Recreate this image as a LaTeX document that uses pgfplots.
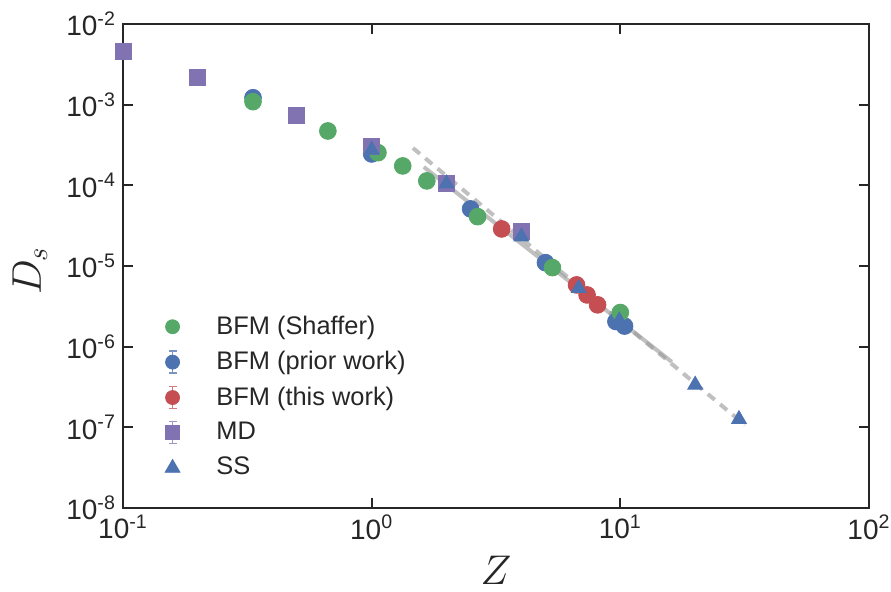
\documentclass[border=0pt]{standalone}
\usepackage{fontspec}
\setmainfont{Liberation Sans}
\usepackage{pgfplots}
\pgfplotsset{compat=1.18}
\definecolor{sgreen}{RGB}{85,168,104}
\definecolor{sblue}{RGB}{76,114,176}
\definecolor{sred}{RGB}{196,78,82}
\definecolor{spurple}{RGB}{129,114,178}
\definecolor{fitgray}{RGB}{150,150,150}
\definecolor{axgray}{RGB}{38,38,38}

% legend pictures (marker, some with an error bar)
\pgfplotsset{
  leg green/.style={legend image code/.code={%
    \path[draw=none,fill=none] (0cm,-0.2cm) rectangle (1.0cm,0.2cm);
    \fill[sgreen] (0.3cm,0cm) circle (3.5pt);}},
  leg blue/.style={legend image code/.code={%
    \path[draw=none,fill=none] (0cm,-0.2cm) rectangle (1.0cm,0.2cm);
    \draw[sblue!75,line width=0.9pt] (0.3cm,-5.5pt)--(0.3cm,5.5pt) (0.3cm-2pt,-5.5pt)--(0.3cm+2pt,-5.5pt) (0.3cm-2pt,5.5pt)--(0.3cm+2pt,5.5pt);
    \fill[sblue] (0.3cm,0cm) circle (3.5pt);}},
  leg red/.style={legend image code/.code={%
    \path[draw=none,fill=none] (0cm,-0.2cm) rectangle (1.0cm,0.2cm);
    \draw[sred!75,line width=0.9pt] (0.3cm,-5.5pt)--(0.3cm,5.5pt) (0.3cm-2pt,-5.5pt)--(0.3cm+2pt,-5.5pt) (0.3cm-2pt,5.5pt)--(0.3cm+2pt,5.5pt);
    \fill[sred] (0.3cm,0cm) circle (3.5pt);}},
  leg purple/.style={legend image code/.code={%
    \path[draw=none,fill=none] (0cm,-0.2cm) rectangle (1.0cm,0.2cm);
    \draw[spurple!75,line width=0.9pt] (0.3cm,-5.5pt)--(0.3cm,5.5pt) (0.3cm-2pt,-5.5pt)--(0.3cm+2pt,-5.5pt) (0.3cm-2pt,5.5pt)--(0.3cm+2pt,5.5pt);
    \fill[spurple] (0.3cm-3.5pt,-3.5pt) rectangle (0.3cm+3.5pt,3.5pt);}},
  leg tri/.style={legend image code/.code={%
    \path[draw=none,fill=none] (0cm,-0.2cm) rectangle (1.0cm,0.2cm);
    \fill[sblue] (0.3cm-3.7pt,-2.6pt) -- (0.3cm+3.7pt,-2.6pt) -- (0.3cm,3.8pt) -- cycle;}},
}

\begin{document}
\begin{tikzpicture}
\useasboundingbox (-61.5pt,-42pt) rectangle (384pt,254pt);
\begin{axis}[
  xmode=log, ymode=log,
  log basis x=10, log basis y=10,
  scale only axis,
  width=373pt, height=242pt,
  xmin=0.1, xmax=100, ymin=1e-8, ymax=1e-2,
  xtick={0.1,1,10,100},
  ytick={1e-8,1e-7,1e-6,1e-5,1e-4,1e-3,1e-2},
  xticklabel={10\textsuperscript{\pgfmathparse{int(round(\tick))}\pgfmathresult}},
  yticklabel={10\textsuperscript{\pgfmathparse{int(round(\tick))}\pgfmathresult}},
  ticklabel style={font=\fontsize{14}{16}\selectfont, text=axgray},
  axis line style={axgray, line width=1.1pt},
  tick style={axgray, line width=0.9pt},
  major tick length=5pt, minor tick length=2.6pt,
  xlabel={$Z$}, ylabel={$D_s$},
  label style={font=\fontsize{20}{24}\selectfont, text=axgray},
  xlabel style={at={(axis description cs:0.5,-0.129)}, anchor=center},
  ylabel style={at={(axis description cs:-0.125,0.49)}, anchor=center},
  legend style={draw=none, fill=none, at={(axis description cs:0.035,0.414)},
    anchor=north west, font=\fontsize{12.7}{14}\selectfont, text=axgray,
    row sep=3pt},
  legend cell align=left,
]
% BFM (prior work)
\addplot[only marks, mark=*, mark size=4.2pt, color=sblue, forget plot] coordinates {
  (0.3333,1.22e-3) (1.0,2.45e-4) (2.5,5.1e-5) (5.0,1.10e-5) (9.6,2.05e-6) (10.4,1.8e-6)
};
% BFM (Shaffer)
\addplot[only marks, mark=*, mark size=4.2pt, color=sgreen, forget plot] coordinates {
  (0.3333,1.09e-3) (0.6667,4.72e-4) (1.06,2.54e-4) (1.3333,1.74e-4) (1.6667,1.135e-4)
  (2.6667,4.09e-5) (5.3333,9.55e-6) (10.0,2.65e-6)
};
% BFM (this work)
\addplot[only marks, mark=*, mark size=4.2pt, color=sred, forget plot] coordinates {
  (3.3333,2.88e-5) (6.6667,5.83e-6) (7.35,4.38e-6) (8.1,3.3e-6)
};
% MD
\addplot[only marks, mark=square*, mark size=4pt, color=spurple, forget plot] coordinates {
  (0.1,4.54e-3) (0.2,2.16e-3) (0.5,7.45e-4) (1.0,3.02e-4) (2.0,1.06e-4) (4.0,2.72e-5)
};
% SS
\addplot[only marks, mark=triangle*, mark size=4.3pt, color=sblue, forget plot] coordinates {
  (1.0,2.75e-4) (2.0,1.05e-4) (4.0,2.31e-5) (6.8,5.3e-6) (9.9,2.1e-6) (20,3.36e-7) (30,1.26e-7)
};
% fits
\addplot[fitgray, opacity=0.6, line width=2pt, forget plot] coordinates {
  (1.62,1.69e-4) (16.1,6.49e-7)
};
\addplot[fitgray, opacity=0.6, line width=2pt, dash pattern=on 4.5pt off 3.5pt, forget plot] coordinates {
  (1.466,2.90e-4) (31.7,1.07e-7)
};
\addlegendimage{leg green}\addlegendentry{BFM (Shaffer)}
\addlegendimage{leg blue}\addlegendentry{BFM (prior work)}
\addlegendimage{leg red}\addlegendentry{BFM (this work)}
\addlegendimage{leg purple}\addlegendentry{MD}
\addlegendimage{leg tri}\addlegendentry{SS}
\end{axis}
\end{tikzpicture}
\end{document}
